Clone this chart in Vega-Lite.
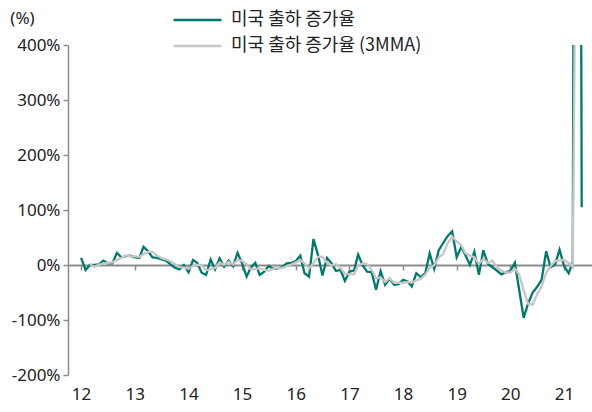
{
"$schema": "https://vega.github.io/schema/vega-lite/v6.json",
"width": 524, "height": 330,
"autosize": "none",
"padding": {"left": 68, "top": 45, "right": 0, "bottom": 37},
"background": "white",
"config": {"view": {"stroke": null}, "font": "Noto Sans"},
"data": {"values": [
{"d":"2012/01/01","g":13,"m":null},{"d":"2012/02/01","g":-9,"m":null},{"d":"2012/03/01","g":0,"m":1.3},{"d":"2012/04/01","g":0,"m":-3},{"d":"2012/05/01","g":1,"m":0.3},{"d":"2012/06/01","g":8,"m":3},{"d":"2012/07/01","g":3,"m":4},{"d":"2012/08/01","g":3,"m":4.7},{"d":"2012/09/01","g":22,"m":9.3},{"d":"2012/10/01","g":14,"m":13},{"d":"2012/11/01","g":16,"m":17.3},{"d":"2012/12/01","g":17,"m":15.7},
{"d":"2013/01/01","g":14,"m":15.7},{"d":"2013/02/01","g":13,"m":14.7},{"d":"2013/03/01","g":33,"m":20},{"d":"2013/04/01","g":25,"m":23.7},{"d":"2013/05/01","g":14,"m":24},{"d":"2013/06/01","g":13,"m":17.3},{"d":"2013/07/01","g":10,"m":12.3},{"d":"2013/08/01","g":8,"m":10.3},{"d":"2013/09/01","g":1,"m":6.3},{"d":"2013/10/01","g":-5,"m":1.3},{"d":"2013/11/01","g":-8,"m":-4},{"d":"2013/12/01","g":0,"m":-4.3},
{"d":"2014/01/01","g":-13,"m":-7},{"d":"2014/02/01","g":9,"m":-1.3},{"d":"2014/03/01","g":4,"m":0},{"d":"2014/04/01","g":-14,"m":-0.3},{"d":"2014/05/01","g":-18,"m":-9.3},{"d":"2014/06/01","g":10,"m":-7.3},{"d":"2014/07/01","g":-8,"m":-5.3},{"d":"2014/08/01","g":12,"m":4.7},{"d":"2014/09/01","g":-3,"m":0.3},{"d":"2014/10/01","g":8,"m":5.7},{"d":"2014/11/01","g":-2,"m":1},{"d":"2014/12/01","g":22,"m":9.3},
{"d":"2015/01/01","g":3,"m":7.7},{"d":"2015/02/01","g":-21,"m":1.3},{"d":"2015/03/01","g":-5,"m":-7.7},{"d":"2015/04/01","g":4,"m":-7.3},{"d":"2015/05/01","g":-18,"m":-6.3},{"d":"2015/06/01","g":-12,"m":-8.7},{"d":"2015/07/01","g":-2,"m":-10.7},{"d":"2015/08/01","g":-7,"m":-7},{"d":"2015/09/01","g":-6,"m":-5},{"d":"2015/10/01","g":-4,"m":-5.7},{"d":"2015/11/01","g":3,"m":-2.3},{"d":"2015/12/01","g":4,"m":1},
{"d":"2016/01/01","g":7,"m":4.7},{"d":"2016/02/01","g":17,"m":9.3},{"d":"2016/03/01","g":-15,"m":3},{"d":"2016/04/01","g":-21,"m":-6.3},{"d":"2016/05/01","g":47,"m":3.7},{"d":"2016/06/01","g":18,"m":14.7},{"d":"2016/07/01","g":-19,"m":15.3},{"d":"2016/08/01","g":13,"m":4},{"d":"2016/09/01","g":3,"m":-1},{"d":"2016/10/01","g":-11,"m":1.7},{"d":"2016/11/01","g":-9,"m":-5.7},{"d":"2016/12/01","g":-29,"m":-16.3},
{"d":"2017/01/01","g":-12,"m":-16.7},{"d":"2017/02/01","g":-10,"m":-17},{"d":"2017/03/01","g":19,"m":-1},{"d":"2017/04/01","g":-1,"m":2.7},{"d":"2017/05/01","g":-12,"m":2},{"d":"2017/06/01","g":-13,"m":-8.7},{"d":"2017/07/01","g":-45,"m":-23.3},{"d":"2017/08/01","g":-11,"m":-23},{"d":"2017/09/01","g":-36,"m":-30.7},{"d":"2017/10/01","g":-25,"m":-24},{"d":"2017/11/01","g":-36,"m":-32.3},{"d":"2017/12/01","g":-35,"m":-32},
{"d":"2018/01/01","g":-27,"m":-32.7},{"d":"2018/02/01","g":-30,"m":-30.7},{"d":"2018/03/01","g":-39,"m":-32},{"d":"2018/04/01","g":-15,"m":-28},{"d":"2018/05/01","g":-22,"m":-25.3},{"d":"2018/06/01","g":-15,"m":-17.3},{"d":"2018/07/01","g":21,"m":-5.3},{"d":"2018/08/01","g":-7,"m":-0.3},{"d":"2018/09/01","g":27,"m":13.7},{"d":"2018/10/01","g":40,"m":20},{"d":"2018/11/01","g":53,"m":40},{"d":"2018/12/01","g":61,"m":51.3},
{"d":"2019/01/01","g":14,"m":42.7},{"d":"2019/02/01","g":33,"m":36},{"d":"2019/03/01","g":18,"m":21.7},{"d":"2019/04/01","g":0,"m":17},{"d":"2019/05/01","g":24,"m":14},{"d":"2019/06/01","g":-18,"m":2},{"d":"2019/07/01","g":27,"m":11},{"d":"2019/08/01","g":2,"m":3.7},{"d":"2019/09/01","g":-4,"m":8.3},{"d":"2019/10/01","g":-10,"m":-4},{"d":"2019/11/01","g":-17,"m":-10.3},{"d":"2019/12/01","g":-13,"m":-13.3},
{"d":"2020/01/01","g":-11,"m":-13.7},{"d":"2020/02/01","g":4,"m":-6.7},{"d":"2020/03/01","g":-45,"m":-17.3},{"d":"2020/04/01","g":-96,"m":-45.7},{"d":"2020/05/01","g":-70,"m":-70.3},{"d":"2020/06/01","g":-50,"m":-72},{"d":"2020/07/01","g":-40,"m":-53.3},{"d":"2020/08/01","g":-27,"m":-39},{"d":"2020/09/01","g":25,"m":-14},{"d":"2020/10/01","g":-4,"m":-2},{"d":"2020/11/01","g":1,"m":7.3},{"d":"2020/12/01","g":28,"m":8.3},
{"d":"2021/01/01","g":-2,"m":9},{"d":"2021/02/01","g":-15,"m":3.7},{"d":"2021/03/01","g":5,"m":-4},{"d":"2021/04/01","g":3000,"m":996.7},{"d":"2021/05/01","g":105,"m":1036.7}
]},
"transform": [{"fold": ["g", "m"], "as": ["series", "value"]}],
"encoding": {
  "y": {"field": "value", "type": "quantitative",
    "scale": {"domain": [-200, 400], "nice": false, "zero": false},
    "axis": {"values": [-200,-100,0,100,200,300,400], "labelExpr": "datum.value + '%'",
      "grid": false, "domainColor": "#8c8c8c", "domainWidth": 1.5, "tickColor": "#8c8c8c", "tickSize": 5, "tickWidth": 1.5,
      "labelFontSize": 17, "labelColor": "#222222", "labelPadding": 3, "labelFont": "Noto Sans",
      "title": "(%)", "titleAngle": 0, "titleX": -46, "titleY": -27, "titleAlign": "center", "titleBaseline": "middle",
      "titleFontWeight": "normal", "titleFontSize": 17, "titleColor": "#222222", "titleFont": "Noto Sans"}},
  "color": {"field": "series", "type": "nominal",
    "scale": {"domain": ["g", "m"], "range": ["#00786C", "#C6C6C6"]},
    "legend": {"orient": "none", "legendX": 104, "legendY": -36, "title": null, "direction": "vertical",
      "symbolType": "stroke", "symbolSize": 2300, "symbolStrokeWidth": 2.5,
      "labelFontSize": 18, "labelFont": "Noto Sans CJK KR", "labelColor": "#222222", "labelOffset": 8, "labelLimit": 500,
      "rowPadding": 4, "clipHeight": 22,
      "labelExpr": "datum.value === 'g' ? '미국 출하 증가율' : '미국 출하 증가율 (3MMA)'"}}
},
"layer": [
  {"transform": [{"filter": "datum.series === 'g'"}],
   "mark": {"type": "line", "clip": true, "strokeWidth": 2.3},
   "encoding": {"x": {"field": "d", "type": "temporal",
     "scale": {"domain": [{"year": 2011, "month": 10, "date": 4}, {"year": 2021, "month": 7, "date": 10}]},
     "axis": {"orient": "bottom", "offset": -110, "labels": false, "grid": false, "title": null,
       "domainColor": "#8c8c8c", "domainWidth": 2.2, "tickColor": "#8c8c8c", "tickSize": 5, "tickWidth": 1.5,
       "values": [{"year":2012,"month":1,"date":1},{"year":2013,"month":1,"date":1},{"year":2014,"month":1,"date":1},{"year":2015,"month":1,"date":1},{"year":2016,"month":1,"date":1},{"year":2017,"month":1,"date":1},{"year":2018,"month":1,"date":1},{"year":2019,"month":1,"date":1},{"year":2020,"month":1,"date":1},{"year":2021,"month":1,"date":1}]}}}},
  {"transform": [{"filter": "datum.series === 'm'"}],
   "mark": {"type": "line", "clip": true, "strokeWidth": 2.3},
   "encoding": {"x": {"field": "d", "type": "temporal",
     "scale": {"domain": [{"year": 2011, "month": 10, "date": 4}, {"year": 2021, "month": 7, "date": 10}]},
     "axis": {"orient": "bottom", "domain": false, "ticks": false, "grid": false, "title": null, "format": "%y",
       "labelFlush": false, "labelPadding": 11, "labelFontSize": 17, "labelColor": "#222222", "labelFont": "Noto Sans",
       "values": [{"year":2012,"month":1,"date":1},{"year":2013,"month":1,"date":1},{"year":2014,"month":1,"date":1},{"year":2015,"month":1,"date":1},{"year":2016,"month":1,"date":1},{"year":2017,"month":1,"date":1},{"year":2018,"month":1,"date":1},{"year":2019,"month":1,"date":1},{"year":2020,"month":1,"date":1},{"year":2021,"month":1,"date":1}]}}}}
],
"resolve": {"axis": {"x": "independent"}}
}
